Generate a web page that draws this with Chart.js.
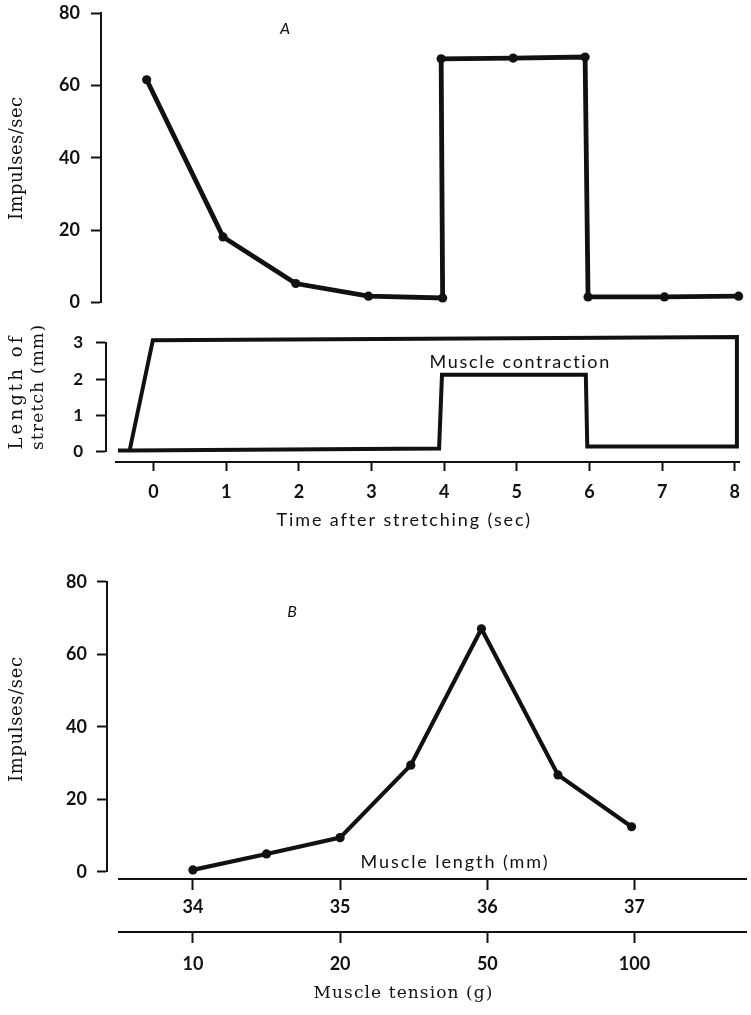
<!DOCTYPE html>
<html>
<head>
<meta charset="utf-8">
<script src="https://cdn.jsdelivr.net/npm/chart.js@4.4.1/dist/chart.umd.min.js"></script>
<style>
  html, body { margin: 0; padding: 0; background: #fff; }
  #wrap { position: relative; width: 751px; height: 1015px; overflow: hidden; background: #fff; }
  #wrap canvas { position: absolute; left: 0; top: 0; }
</style>
</head>
<body>
<div id="wrap">
  <canvas id="rate" width="751" height="1015"></canvas>
  <canvas id="stretch" width="751" height="1015"></canvas>
  <canvas id="tension" width="751" height="1015"></canvas>
</div>
<script>
// ---- A: impulse frequency after stretching (sec, impulses/sec) ----
const rateTimes  = [-0.10, 0.94, 1.93, 2.92, 3.93, 3.91, 4.89, 5.87, 5.91, 6.95, 7.96];
const rateValues = [61.6, 18.1, 5.2, 1.7, 1.2, 67.4, 67.6, 67.9, 1.5, 1.5, 1.7];

// ---- stretch trace (sec, mm); contraction between 4 and 6 sec ----
const stretchTimes   = [-0.49, -0.33, -0.01, 8.03, 8.03, 5.97, 5.95, 3.97, 3.93, -0.33];
const stretchLengths = [0.03, 0.03, 3.07, 3.16, 0.14, 0.14, 2.12, 2.12, 0.09, 0.03];

const timeTicks    = [0, 1, 2, 3, 4, 5, 6, 7, 8];
const rateTicks    = [0, 20, 40, 60, 80];
const stretchTicks = [0, 1, 2, 3];

// ---- B: impulse frequency against muscle length / tension ----
const muscleLengths = [34, 34.5, 35, 35.48, 35.96, 36.48, 36.98];
const lengthRates   = [0.5, 4.9, 9.4, 29.4, 67.0, 26.7, 12.4];
const lengthTicks   = [34, 35, 36, 37];
const tensionLabels = ['10', '20', '50', '100'];

const INK = '#111';
const SANS = 'Lato, "Open Sans", sans-serif';
const SERIF = '"DejaVu Serif", "Liberation Serif", serif';
const LABEL_AXIS_WIDTH = 60;

const toPoints = (xs, ys) => xs.map((x, i) => ({ x, y: ys[i] }));
const fixedTicks = values => scale => { scale.ticks = values.map(v => ({ value: v })); };

// axis line + outward tick marks
function axisStyle(tickLength, padding, size, showLabels = true) {
  return {
    border: { display: true, color: INK, width: 2 },
    grid: { display: true, drawOnChartArea: false, drawTicks: true, tickLength, tickWidth: 2, tickColor: INK, color: INK },
    ticks: { display: showLabels, color: INK, padding, autoSkip: false, maxRotation: 0, font: { family: SANS, size, weight: 'bold' } }
  };
}

// value labels of a vertical axis, set back `offset` px from the plot area
function labelAxis(min, max, values, offset, size) {
  return {
    type: 'linear', axis: 'y', position: 'left', min, max,
    afterBuildTicks: fixedTicks(values),
    afterFit: scale => { scale.width = LABEL_AXIS_WIDTH; },
    border: { display: false },
    grid: { display: false, drawTicks: true, tickLength: offset },
    ticks: { color: INK, padding: 0, autoSkip: false, font: { family: SANS, size, weight: 'bold' } }
  };
}

// Free text: captions, panel letters and axis titles
function captions(items) {
  return {
    id: 'captions',
    afterDraw(chart) {
      const ctx = chart.ctx;
      items.forEach(it => {
        ctx.save();
        ctx.fillStyle = INK;
        ctx.font = it.font;
        ctx.textBaseline = 'alphabetic';
        ctx.textAlign = 'left';
        ctx.translate(it.x, it.y);
        if (it.rotate) ctx.rotate(it.rotate);
        const natural = ctx.measureText(it.text).width;
        const target = it.width || natural;
        const n = [...it.text].length;
        if (it.width && n > 1) {
          if ('letterSpacing' in ctx) {
            ctx.letterSpacing = ((target - natural) / (n - 1)).toFixed(2) + 'px';
          } else {
            ctx.scale(target / natural, 1);
            ctx.fillText(it.text, -natural / 2, 0);
            ctx.restore();
            return;
          }
        }
        ctx.fillText(it.text, -target / 2, 0);
        ctx.restore();
      });
    }
  };
}

const common = {
  type: 'scatter',
  options: {
    responsive: false,
    animation: false,
    events: [],
    devicePixelRatio: 1,
    plugins: { legend: { display: false }, tooltip: { enabled: false } }
  }
};

function lineSet(data, width, radius) {
  return {
    data, showLine: true, clip: false, tension: 0,
    borderColor: INK, borderWidth: width,
    pointRadius: radius, pointBackgroundColor: INK, pointBorderWidth: 0,
    borderJoinStyle: 'miter', borderCapStyle: 'butt'
  };
}

const timeMin = -0.5174, timeMax = 8.0606;

// Panel A
new Chart(document.getElementById('rate'), {
  ...common,
  data: { datasets: [lineSet(toPoints(rateTimes, rateValues), 4.8, 4.6)] },
  options: {
    ...common.options,
    layout: { padding: { left: 116 - LABEL_AXIS_WIDTH, right: 5, top: 13.3, bottom: 712.7 } },
    scales: {
      x: { type: 'linear', min: timeMin, max: timeMax, display: false, position: { y: 0 } },
      y: {
        type: 'linear', min: 0, max: 80, position: { x: -0.72 },
        afterBuildTicks: fixedTicks(rateTicks),
        ...axisStyle(9, 0, 18, false)
      },
      yLabels: labelAxis(0, 80, rateTicks, 36, 18)
    }
  },
  plugins: [captions([
    { text: 'A', x: 285, y: 33.5, font: 'italic 16px ' + SANS },
    { text: 'Impulses/sec', x: 22, y: 158.5, rotate: -Math.PI / 2, width: 123, font: '18px ' + SERIF }
  ])]
});

// Stretch trace
new Chart(document.getElementById('stretch'), {
  ...common,
  data: { datasets: [lineSet(toPoints(stretchTimes, stretchLengths), 4, 0)] },
  options: {
    ...common.options,
    layout: { padding: { left: 116 - LABEL_AXIS_WIDTH, right: 5, top: 342.7, bottom: 563.3 } },
    scales: {
      x: {
        type: 'linear', min: timeMin, max: timeMax, position: { y: -0.284 },
        afterBuildTicks: fixedTicks(timeTicks),
        ...axisStyle(8, 11, 18)
      },
      y: {
        type: 'linear', min: 0, max: 3, position: { x: -0.65 },
        afterBuildTicks: fixedTicks(stretchTicks),
        ...axisStyle(9, 0, 17, false)
      },
      yLabels: labelAxis(0, 3, stretchTicks, 33, 17)
    }
  },
  plugins: [captions([
    { text: 'Muscle contraction', x: 519.5, y: 367.5, width: 180, font: '18px ' + SANS },
    { text: 'Time after stretching (sec)', x: 403, y: 526, width: 253, font: '18px ' + SANS },
    { text: 'Length of', x: 22, y: 393, rotate: -Math.PI / 2, width: 113, font: '18px ' + SERIF },
    { text: 'stretch (mm)', x: 42.5, y: 387.5, rotate: -Math.PI / 2, width: 125, font: '17px ' + SERIF }
  ])]
});

// Panel B
new Chart(document.getElementById('tension'), {
  ...common,
  data: { datasets: [lineSet(toPoints(muscleLengths, lengthRates), 4.2, 4.6)] },
  options: {
    ...common.options,
    layout: { padding: { left: 119.3 - LABEL_AXIS_WIDTH, right: 4, top: 581.7, bottom: 143.3 } },
    scales: {
      x: {
        type: 'linear', min: 33.5, max: 37.76, position: { y: -2.0 },
        afterBuildTicks: fixedTicks(lengthTicks),
        ...axisStyle(10, 7, 18)
      },
      x2: {
        type: 'linear', axis: 'x', min: 33.5, max: 37.76, position: { y: -16.55 },
        afterBuildTicks: fixedTicks(lengthTicks),
        ...axisStyle(10, 12, 18),
        ticks: {
          ...axisStyle(10, 12, 18).ticks,
          callback: (value, index) => tensionLabels[index]
        }
      },
      y: {
        type: 'linear', min: 0, max: 80, position: { x: 33.416 },
        afterBuildTicks: fixedTicks(rateTicks),
        ...axisStyle(9, 0, 18, false)
      },
      yLabels: labelAxis(0, 80, rateTicks, 32.3, 18)
    }
  },
  plugins: [captions([
    { text: 'B', x: 292, y: 617, font: 'italic 16px ' + SANS },
    { text: 'Impulses/sec', x: 22, y: 719.5, rotate: -Math.PI / 2, width: 125, font: '18px ' + SERIF },
    { text: 'Muscle length (mm)', x: 454, y: 868.3, width: 187, font: '18px ' + SANS },
    { text: 'Muscle tension (g)', x: 403, y: 998, width: 179, font: '17px ' + SERIF }
  ])]
});
</script>
</body>
</html>
